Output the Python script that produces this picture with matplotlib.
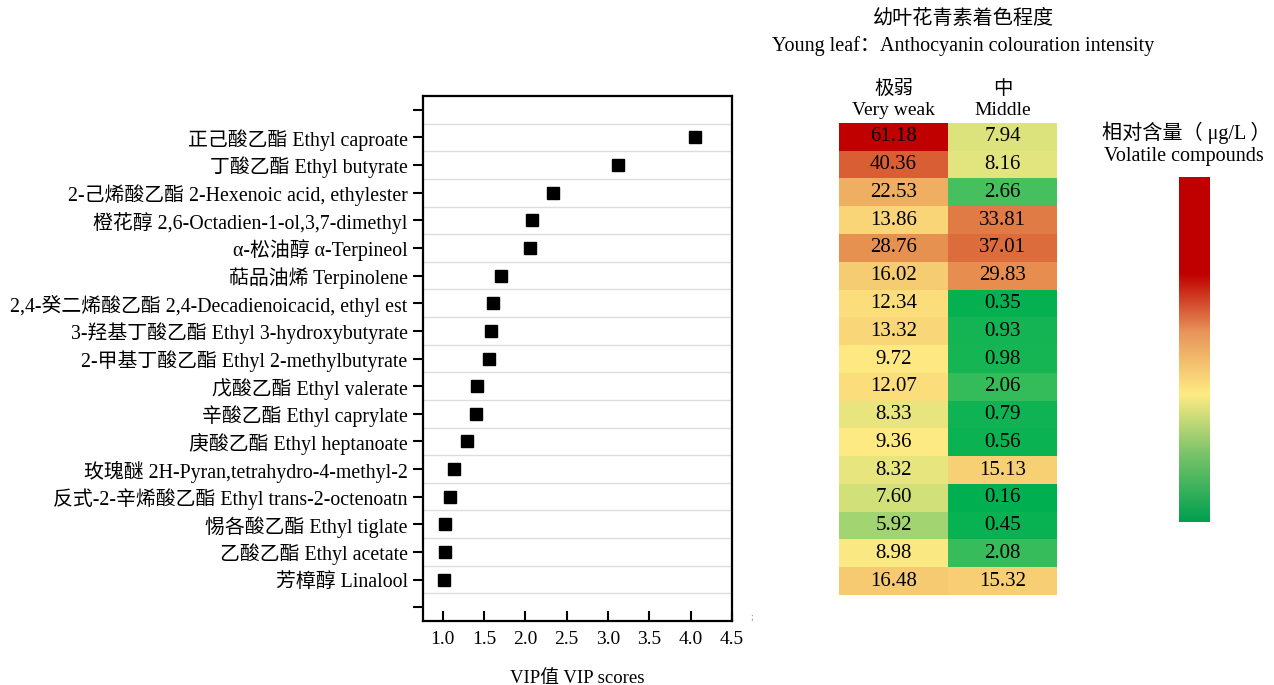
import numpy as np
import matplotlib
matplotlib.use("Agg")
import matplotlib.pyplot as plt
from matplotlib.colors import LinearSegmentedColormap, TwoSlopeNorm

plt.rcParams['font.family'] = ['Liberation Serif', 'Noto Sans CJK SC']

# 化合物名称（从上到下）
compounds = [
    '正己酸乙酯 Ethyl caproate',
    '丁酸乙酯 Ethyl butyrate',
    '2-己烯酸乙酯 2-Hexenoic acid, ethylester',
    '橙花醇 2,6-Octadien-1-ol,3,7-dimethyl',
    'α-松油醇 α-Terpineol',
    '萜品油烯 Terpinolene',
    '2,4-癸二烯酸乙酯 2,4-Decadienoicacid, ethyl est',
    '3-羟基丁酸乙酯 Ethyl 3-hydroxybutyrate',
    '2-甲基丁酸乙酯 Ethyl 2-methylbutyrate',
    '戊酸乙酯 Ethyl valerate',
    '辛酸乙酯 Ethyl caprylate',
    '庚酸乙酯 Ethyl heptanoate',
    '玫瑰醚 2H-Pyran,tetrahydro-4-methyl-2',
    '反式-2-辛烯酸乙酯 Ethyl trans-2-octenoatn',
    '惕各酸乙酯 Ethyl tiglate',
    '乙酸乙酯 Ethyl acetate',
    '芳樟醇 Linalool',
]
vip = [4.05, 3.12, 2.34, 2.08, 2.06, 1.70, 1.61, 1.58, 1.56,
       1.41, 1.40, 1.29, 1.14, 1.09, 1.03, 1.03, 1.01]

very_weak = [61.18, 40.36, 22.53, 13.86, 28.76, 16.02, 12.34, 13.32, 9.72,
             12.07, 8.33, 9.36, 8.32, 7.60, 5.92, 8.98, 16.48]
middle = [7.94, 8.16, 2.66, 33.81, 37.01, 29.83, 0.35, 0.93, 0.98,
          2.06, 0.79, 0.56, 15.13, 0.16, 0.45, 2.08, 15.32]
col_labels = ['极弱\nVery weak', '中\nMiddle']
x_ticks = [1.0, 1.5, 2.0, 2.5, 3.0, 3.5, 4.0, 4.5]

fig = plt.figure(figsize=(12.74, 6.85), dpi=100)

# ---- 左侧 VIP 点图 ----
ax = fig.add_axes([0.332, 0.0934, 0.2425, 0.7664])
n = len(compounds)
ypos = np.arange(1, n + 1)
ax.plot(vip, ypos, linestyle='none', marker='s', markersize=8, color='black')
ax.set_ylim(n + 1.5, -0.5)
ax.set_xlim(0.76, 4.5)
ax.set_yticks(np.arange(0, n + 2))
ax.set_yticklabels([''] + compounds + [''], fontsize=14.3)
ax.set_xticks(x_ticks)
ax.set_xticklabels([f'{t:.1f}' for t in x_ticks], fontsize=14)
for yy in np.arange(0.5, n + 1, 1.0):
    ax.axhline(yy, color='#dddddd', linewidth=1.0, zorder=0)
ax.tick_params(axis='y', direction='out', length=7, width=1.5, pad=4)
ax.tick_params(axis='x', direction='in', length=7, width=1.5, pad=7)
for s in ax.spines.values():
    s.set_linewidth(1.6)
ax.set_xlabel('VIP值 VIP scores', fontsize=13.5, labelpad=16)
fig.text(0.5905, 0.096, ';', fontsize=7, color='#888888', ha='center')

# ---- 右侧热图 ----
hm = fig.add_axes([0.6586, 0.1314, 0.1711, 0.689])
data = np.column_stack([very_weak, middle])
cmap = LinearSegmentedColormap.from_list('gyr', ['#00B050', '#FFEB84', '#C00000'])
norm = TwoSlopeNorm(vmin=data.min(), vcenter=np.median(data), vmax=data.max())
hm.imshow(data, cmap=cmap, norm=norm, aspect='auto', interpolation='nearest')
for i in range(n):
    for j in range(2):
        hm.text(j, i, f'{data[i, j]:.2f}', ha='center', va='center', fontsize=15)
hm.set_xticks([0, 1])
hm.set_xticklabels(col_labels, fontsize=14, linespacing=1.3)
hm.xaxis.tick_top()
hm.tick_params(axis='x', length=0, pad=3)
hm.set_yticks([])
for s in hm.spines.values():
    s.set_visible(False)

fig.text(0.756, 0.972, '幼叶花青素着色程度', ha='center', va='center', fontsize=14.5)
fig.text(0.756, 0.933, 'Young leaf：Anthocyanin colouration intensity',
         ha='center', va='center', fontsize=14.5)

# ---- 色条 ----
cb_cmap = LinearSegmentedColormap.from_list(
    'cb', [(0, '#00A050'), (0.2, '#7CC46A'), (0.37, '#FFEB84'),
           (0.55, '#E8955A'), (0.72, '#C00000'), (1.0, '#C00000')])
cax = fig.add_axes([0.9254, 0.2380, 0.0243, 0.5036])
grad = np.linspace(1, 0, 256).reshape(-1, 1)
cax.imshow(grad, cmap=cb_cmap, aspect='auto')
cax.set_xticks([])
cax.set_yticks([])
for s in cax.spines.values():
    s.set_visible(False)
fig.text(0.931, 0.806, '相对含量（ μg/L ）', ha='center', va='center', fontsize=14.5)
fig.text(0.929, 0.771, 'Volatile compounds', ha='center', va='center', fontsize=14.5)

fig.savefig('out.png', dpi=100, facecolor='white')
plt.close(fig)
